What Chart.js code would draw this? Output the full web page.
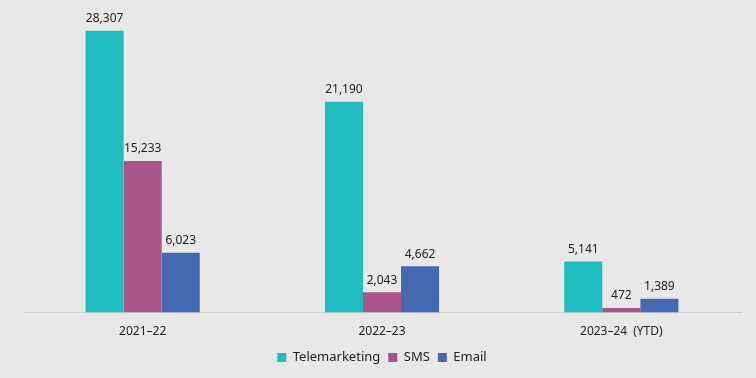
<!DOCTYPE html>
<html>
<head>
<meta charset="utf-8">
<script src="https://cdn.jsdelivr.net/npm/chart.js@4"></script>
<style>
  html, body { margin:0; padding:0; background:#e8e8e8; }
  #wrap { width:756px; height:378px; }
</style>
</head>
<body>
<div id="wrap"><canvas id="chart"></canvas></div>
<script>
/* ===== DATA ===== */
const years = ["2021\u201322", "2022\u201323", "2023\u201324\u2002(YTD)"];
const telemarketing = [28307, 21190, 5141];
const sms = [15233, 2043, 472];
const email = [6023, 4662, 1389];

/* ===== VALUE LABELS ===== */
const valueLabels = {
  id: "valueLabels",
  afterDatasetsDraw(chart) {
    const ctx = chart.ctx;
    ctx.save();
    ctx.font = "12px 'Noto Sans', sans-serif";
    ctx.fillStyle = "#222";
    ctx.textAlign = "center";
    ctx.textBaseline = "bottom";
    chart.data.datasets.forEach((ds, i) => {
      chart.getDatasetMeta(i).data.forEach((bar, j) => {
        ctx.fillText(ds.data[j].toLocaleString("en-US"), bar.x, bar.y - 6);
      });
    });
    ctx.restore();
  }
};

new Chart(document.getElementById("chart"), {
  type: "bar",
  data: {
    labels: years,
    datasets: [
      {label: "Telemarketing", data: telemarketing, backgroundColor: "#1fbdbf"},
      {label: "SMS", data: sms, backgroundColor: "#a85588"},
      {label: "Email", data: email, backgroundColor: "#4468b2"}
    ]
  },
  options: {
    responsive: true,
    maintainAspectRatio: false,
    animation: false,
    layout: {padding: {top: 14, left: 23, right: 15, bottom: 4}},
    datasets: {bar: {barPercentage: 1, categoryPercentage: 0.477}},
    plugins: {
      legend: {
        position: "bottom",
        labels: {
          boxWidth: 9, boxHeight: 9, padding: 8, color: "#222",
          font: {family: "'Noto Sans', sans-serif", size: 13}
        }
      },
      tooltip: {enabled: false}
    },
    scales: {
      x: {
        grid: {display: false},
        border: {display: true, color: "#d0d0d0"},
        ticks: {color: "#222", padding: 4, font: {family: "'Noto Sans', sans-serif", size: 12}}
      },
      y: {display: false, min: 0, max: 30000}
    }
  },
  plugins: [valueLabels]
});
</script>
</body>
</html>
